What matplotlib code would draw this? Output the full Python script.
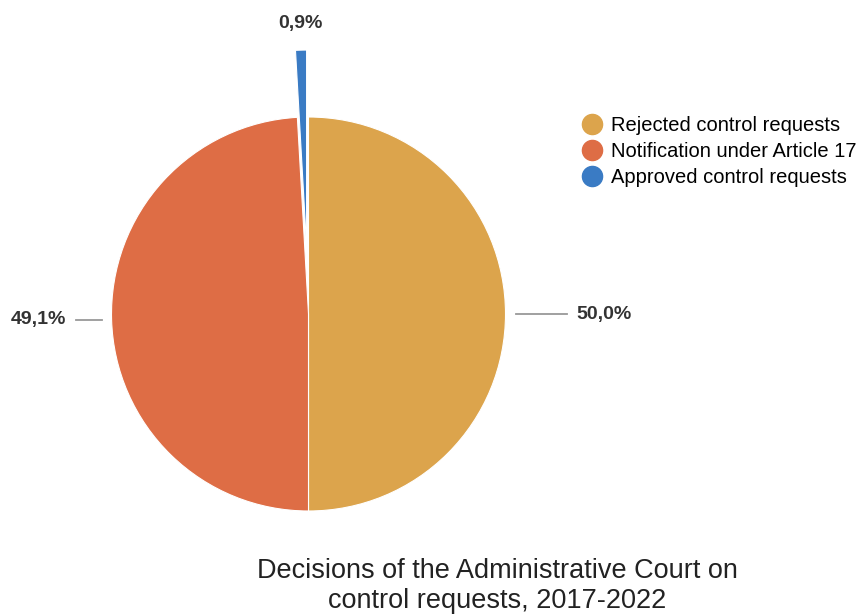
import matplotlib

matplotlib.use("Agg")
import matplotlib.pyplot as plt
import numpy as np

plt.rcParams["font.family"] = ["Liberation Sans", "DejaVu Sans"]

categories = [
    "Rejected control requests",
    "Notification under Article 17",
    "Approved control requests",
]
shares = [50.0, 49.1, 0.9]
value_labels = ["50,0%", "49,1%", "0,9%"]
colors = ["#dca44c", "#de6d45", "#3a7bc4"]
title = "Decisions of the Administrative Court on\ncontrol requests, 2017-2022"

W, H = 864, 615
fig = plt.figure(figsize=(W / 100, H / 100), dpi=100)

# square axes, 1 data unit == pie radius (197 px), pie centred at (308.5, 314)
R_PX = 197.0
LIM = 1.6
side = 2 * LIM * R_PX
cx, cy = 308.5, H - 314.0
ax = fig.add_axes([(cx - side / 2) / W, (cy - side / 2) / H, side / W, side / H])

explode = [0, 0, 0.34]
wedges, _ = ax.pie(
    shares,
    colors=colors,
    startangle=90,
    counterclock=False,
    explode=explode,
    radius=1.0,
    wedgeprops=dict(edgecolor="white", linewidth=0.8),
)
wedges[-1].set_zorder(5)
ax.set_xlim(-LIM, LIM)
ax.set_ylim(-LIM, LIM)
ax.set_aspect("equal")
ax.axis("off")

# horizontal leader line (start, end) and text radius per slice; None = no line
leader = [(1.055, 1.31), (1.05, 1.18), None]
text_r = [1.36, 1.23, 1.09]
for w, lab, ld, tr, ex in zip(wedges, value_labels, leader, text_r, explode):
    ang = np.deg2rad((w.theta1 + w.theta2) / 2)
    ca, sa = np.cos(ang), np.sin(ang)
    ox, oy = ex * ca, ex * sa
    if ld is not None:
        y0 = oy + ld[0] * sa
        ax.plot(
            [ox + ld[0] * ca, ox + ld[1] * ca],
            [y0, y0],
            color="#999999",
            linewidth=1.3,
            clip_on=False,
        )
        tx, ty = ox + tr * ca, y0
        ha = "left" if ca > 0 else "right"
        va = "center"
    else:
        tx, ty = ox + tr * ca, oy + tr * sa
        ha = "center"
        va = "bottom"
    ax.text(tx, ty, lab, ha=ha, va=va, fontsize=14, fontweight="bold",
            color="#333333")

handles = [
    plt.Line2D([], [], linestyle="none", marker="o", markersize=14.5,
               markerfacecolor=c, markeredgecolor=c)
    for c in colors
]
fig.legend(
    handles,
    categories,
    loc="upper left",
    bbox_to_anchor=(568 / W, 1 - 106 / H),
    frameon=False,
    fontsize=14.5,
    handletextpad=0.25,
    handlelength=1.4,
    labelspacing=0.34,
    borderpad=0.0,
)

fig.text(497 / W, 1 - 586 / H, title, ha="center", va="center",
         fontsize=19.5, color="#222222", linespacing=1.2)

fig.savefig("out.png", dpi=100)
